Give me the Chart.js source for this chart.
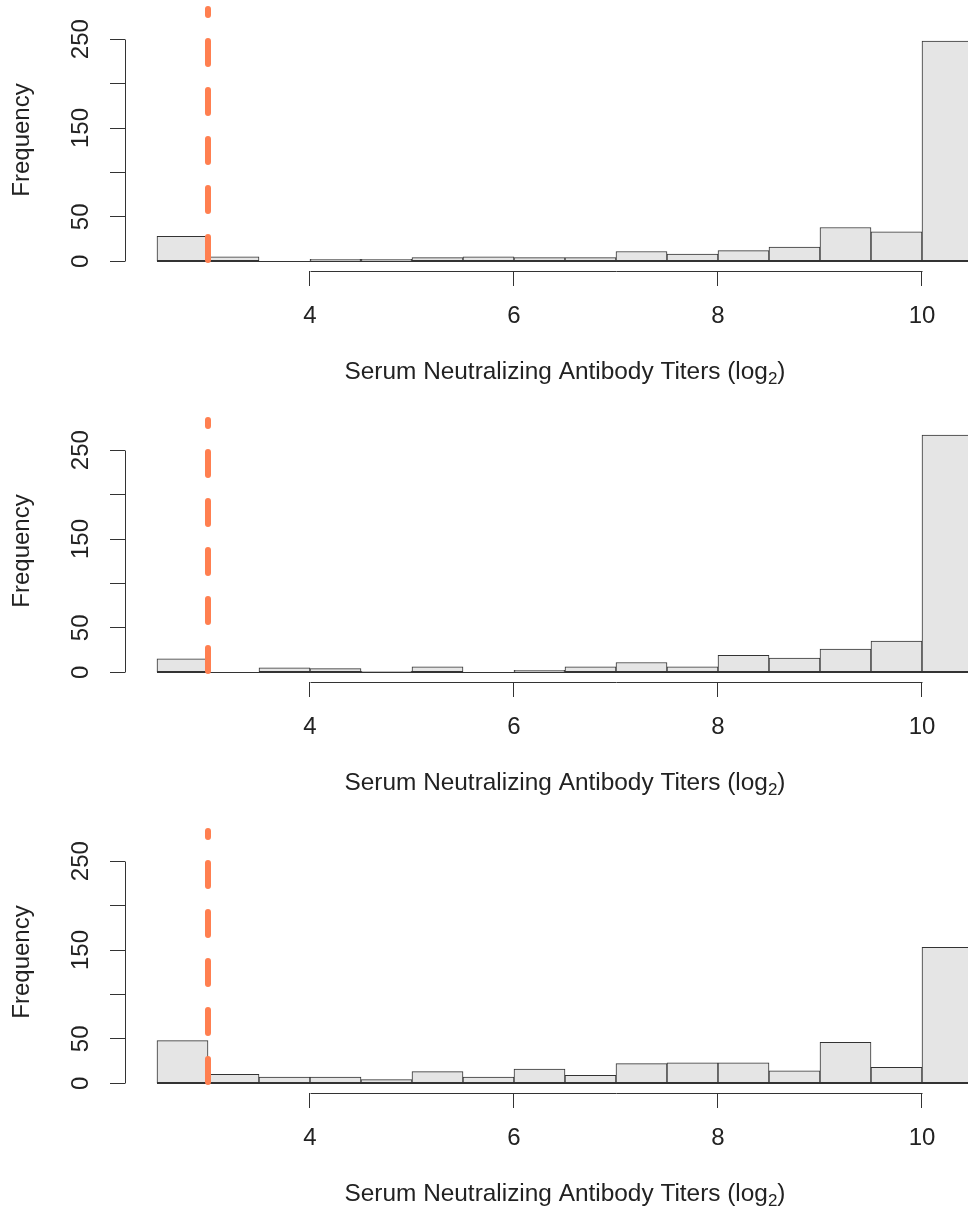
<!DOCTYPE html>
<html>
<head>
<meta charset="utf-8">
<title>Serum neutralizing antibody titer histograms</title>
<script src="https://cdn.jsdelivr.net/npm/chart.js@4.4.1/dist/chart.umd.min.js"></script>
<style>
  html, body { margin: 0; padding: 0; background: #ffffff; width: 968px; height: 1209px; overflow: hidden; }
  .panel { position: absolute; left: 0; width: 968px; height: 411px; }
  canvas { display: block; }
</style>
</head>
<body>
<div class="panel" style="top:0px"><canvas id="histA" width="968" height="411"></canvas></div>
<div class="panel" style="top:411px"><canvas id="histB" width="968" height="411"></canvas></div>
<div class="panel" style="top:822px"><canvas id="histC" width="968" height="411"></canvas></div>
<script>
// Bin centres of the 0.5-wide log2 titer classes, and the outer bin edges
const binCenters = [2.75, 3.25, 3.75, 4.25, 4.75, 5.25, 5.75, 6.25, 6.75, 7.25, 7.75, 8.25, 8.75, 9.25, 9.75, 10.25];
const binEdges = [2.5, 10.5];

// Counts per bin for each of the three serum panels
const countsA = [28, 5, 0, 2, 2, 4, 5, 4, 4, 11, 8, 12, 16, 38, 33, 248];
const countsB = [15, 0, 5, 4, 1, 6, 0, 2, 6, 11, 6, 19, 16, 26, 35, 267];
const countsC = [48, 10, 7, 7, 4, 13, 7, 16, 9, 22, 23, 23, 14, 46, 18, 153];

// Axis ticks and labels (R drops the 100 and 200 labels)
const xTickValues = [4, 6, 8, 10];
const xTickLabels = ['4', '6', '8', '10'];
const yTickValues = [0, 50, 100, 150, 200, 250];
const yTickLabels = ['0', '50', '', '150', '', '250'];

// Detection limit marked with the dashed vertical line
const cutoff = 3;

const xTitleMain = 'Serum Neutralizing Antibody Titers (log';
const xTitleSub = '2';
const xTitleEnd = ')';
const yTitle = 'Frequency';

const FONT = '"Liberation Sans", Arial, Helvetica, sans-serif';
const INK = '#333333';
const TEXT = '#222222';
const BAR_FILL = '#e5e5e5';
const BAR_EDGE = '#333333';
const CUT_COLOR = '#ff7f50';

Chart.defaults.font.family = FONT;

// R-style axes: partial axis lines, rotated y labels, plotmath-like x title,
// zero-height bins as a baseline, and the dashed cutoff line.
const rStylePlot = {
  id: 'rStylePlot',
  afterDatasetsDraw(chart) {
    const { ctx, scales: { x, y } } = chart;
    const y0 = Math.round(y.getPixelForValue(0)) + 0.5;
    ctx.save();
    ctx.strokeStyle = BAR_EDGE;
    ctx.lineWidth = 1;
    ctx.beginPath();
    ctx.moveTo(x.getPixelForValue(binEdges[0]), y0);
    ctx.lineTo(x.getPixelForValue(binEdges[1]), y0);
    ctx.stroke();
    ctx.restore();
  },
  afterDraw(chart) {
    const { ctx, chartArea, scales: { x, y } } = chart;
    ctx.save();

    // axis lines spanning first to last tick
    ctx.strokeStyle = INK;
    ctx.lineWidth = 1;
    const ax = Math.round(chartArea.left) + 0.5;
    ctx.beginPath();
    ctx.moveTo(ax, Math.round(y.getPixelForValue(yTickValues[0])) + 0.5);
    ctx.lineTo(ax, Math.round(y.getPixelForValue(yTickValues[yTickValues.length - 1])) + 0.5);
    ctx.stroke();
    const ay = Math.round(chartArea.bottom) + 0.5;
    ctx.beginPath();
    ctx.moveTo(Math.round(x.getPixelForValue(xTickValues[0])) + 0.5, ay);
    ctx.lineTo(Math.round(x.getPixelForValue(xTickValues[xTickValues.length - 1])) + 0.5, ay);
    ctx.stroke();

    // rotated y tick labels
    ctx.fillStyle = TEXT;
    ctx.font = '24px ' + FONT;
    ctx.textAlign = 'center';
    ctx.textBaseline = 'middle';
    yTickValues.forEach((v, i) => {
      if (!yTickLabels[i]) return;
      ctx.save();
      ctx.translate(chartArea.left - 44, y.getPixelForValue(v));
      ctx.rotate(-Math.PI / 2);
      ctx.fillText(yTickLabels[i], 0, 0);
      ctx.restore();
    });

    // x axis title with subscript
    const mainFont = '24.4px ' + FONT;
    const subFont = '17px ' + FONT;
    ctx.font = mainFont;
    const wMain = ctx.measureText(xTitleMain).width;
    const wEnd = ctx.measureText(xTitleEnd).width;
    ctx.font = subFont;
    const wSub = ctx.measureText(xTitleSub).width;
    const total = wMain + wSub + wEnd;
    const cx = x.getPixelForValue((binEdges[0] + binEdges[1]) / 2);
    const base = chartArea.bottom + 107.5;
    let tx = cx - total / 2;
    ctx.textAlign = 'left';
    ctx.textBaseline = 'alphabetic';
    ctx.font = mainFont;
    ctx.fillText(xTitleMain, tx, base);
    tx += wMain;
    ctx.font = subFont;
    ctx.fillText(xTitleSub, tx, base + 5);
    tx += wSub;
    ctx.font = mainFont;
    ctx.fillText(xTitleEnd, tx, base);

    // dashed cutoff line, dash pattern running up from the bottom of the plot region
    const cxp = x.getPixelForValue(cutoff);
    ctx.strokeStyle = CUT_COLOR;
    ctx.lineWidth = 6;
    ctx.lineCap = 'round';
    ctx.setLineDash([23, 26]);
    ctx.lineDashOffset = 38;
    ctx.beginPath();
    ctx.moveTo(cxp, chartArea.bottom);
    ctx.lineTo(cxp, chartArea.top);
    ctx.stroke();

    ctx.restore();
  }
};

function makeHistogram(canvasId, counts) {
  return new Chart(document.getElementById(canvasId), {
    type: 'bar',
    data: {
      datasets: [{
        data: binCenters.map((c, i) => ({ x: c, y: counts[i] })),
        backgroundColor: BAR_FILL,
        borderColor: BAR_EDGE,
        borderWidth: 1,
        borderSkipped: false,
        barPercentage: 1,
        categoryPercentage: 1
      }]
    },
    options: {
      responsive: false,
      animation: false,
      devicePixelRatio: 1,
      events: [],
      layout: { padding: { top: 9, left: 0, right: 0, bottom: 0 } },
      plugins: { legend: { display: false }, tooltip: { enabled: false } },
      scales: {
        x: {
          type: 'linear',
          offset: false,
          min: 2.1863,
          max: 10.451,
          afterBuildTicks: (scale) => { scale.ticks = xTickValues.map(v => ({ value: v })); },
          afterFit: (scale) => { scale.height = 140; },
          grid: { display: true, offset: false, drawOnChartArea: false, drawTicks: true, tickLength: 15, color: INK, lineWidth: 1 },
          border: { display: false },
          ticks: {
            autoSkip: false,
            maxRotation: 0,
            minRotation: 0,
            padding: 16,
            color: TEXT,
            font: { size: 24 },
            callback: (value) => {
              const i = xTickValues.indexOf(value);
              return i >= 0 ? xTickLabels[i] : '';
            }
          }
        },
        y: {
          type: 'linear',
          min: -11,
          max: 284,
          afterBuildTicks: (scale) => { scale.ticks = yTickValues.map(v => ({ value: v })); },
          afterFit: (scale) => { scale.width = 125; },
          grid: { display: true, offset: false, drawOnChartArea: false, drawTicks: true, tickLength: 15, color: INK, lineWidth: 1 },
          border: { display: false },
          ticks: { display: false },
          title: {
            display: true,
            text: yTitle,
            color: TEXT,
            font: { size: 24 },
            padding: { top: 8, bottom: 0 }
          }
        }
      }
    },
    plugins: [rStylePlot]
  });
}

makeHistogram('histA', countsA);
makeHistogram('histB', countsB);
makeHistogram('histC', countsC);
</script>
</body>
</html>
